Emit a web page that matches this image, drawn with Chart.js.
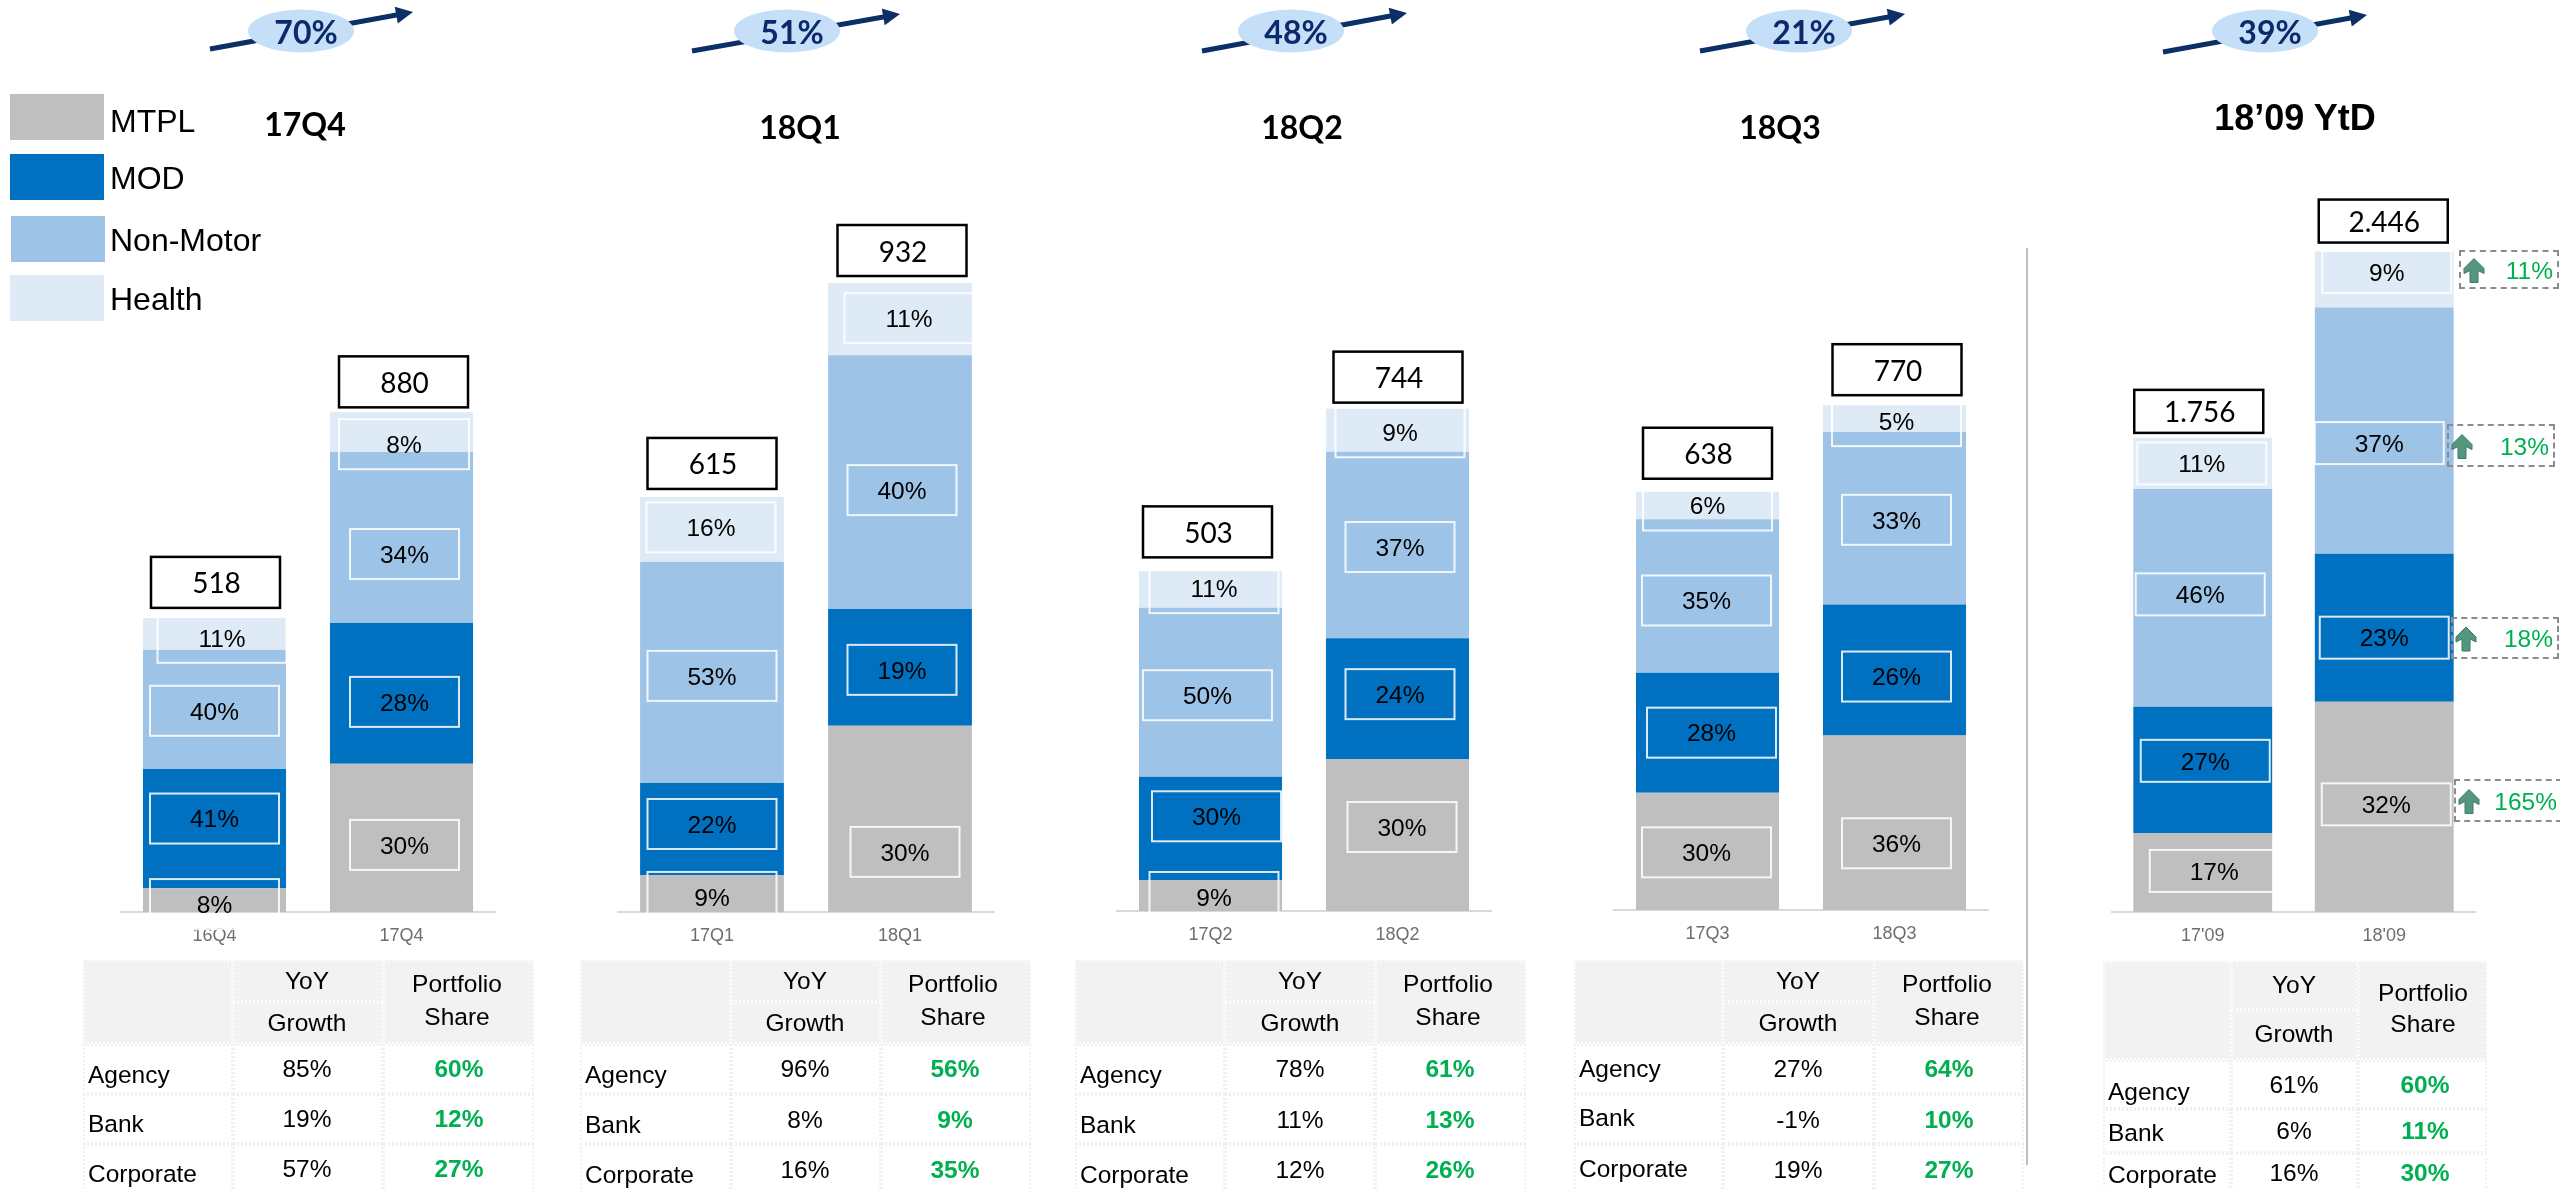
<!DOCTYPE html>
<html>
<head>
<meta charset="utf-8">
<title>Premium by line of business</title>
<script src="https://cdn.jsdelivr.net/npm/chart.js@4"></script>
<style>
html, body { margin: 0; padding: 0; background: #fff; }
#page { position: relative; width: 2560px; height: 1190px; overflow: hidden; }
#page canvas { position: absolute; left: 0; top: 0; }
.txt { position: absolute; white-space: nowrap; line-height: 1; color: #000; font-family: "Liberation Sans", sans-serif; }
.cell { position: absolute; box-sizing: border-box; }
</style>
</head>
<body>
<div id="page"></div>
<script>
// chart data, one entry per panel, each holding [previous year, current year]
const panelTitles = ['17Q4', '18Q1', '18Q2', '18Q3', '18’09 YtD'];
const periodLabels = [['16Q4', '17Q4'], ['17Q1', '18Q1'], ['17Q2', '18Q2'], ['17Q3', '18Q3'], ["17'09", "18'09"]];
const mtplValues = [[42, 261], [55, 276], [46, 225], [179, 266], [293, 779]];
const modValues = [[210, 248], [136, 173], [153, 179], [183, 200], [467, 548]];
const nonMotorValues = [[210, 301], [328, 376], [250, 276], [234, 263], [807, 912]];
const healthValues = [[56, 70], [96, 107], [54, 64], [42, 41], [189, 207]];
const totalLabels = [['518', '880'], ['615', '932'], ['503', '744'], ['638', '770'], ['1.756', '2.446']];

const mtplShares = [[8, 30], [9, 30], [9, 30], [30, 36], [17, 32]];
const modShares = [[41, 28], [22, 19], [30, 24], [28, 26], [27, 23]];
const nonMotorShares = [[40, 34], [53, 40], [50, 37], [35, 33], [46, 37]];
const healthShares = [[11, 8], [16, 11], [11, 9], [6, 5], [11, 9]];

const growthBubbles = ['70%', '51%', '48%', '21%', '39%'];
const ytdGrowth = ['165%', '18%', '13%', '11%'];

const channelNames = ['Agency', 'Bank', 'Corporate'];
const yoyGrowth = [['85%', '19%', '57%'], ['96%', '8%', '16%'], ['78%', '11%', '12%'], ['27%', '-1%', '19%'], ['61%', '6%', '16%']];
const portfolioShare = [['60%', '12%', '27%'], ['56%', '9%', '35%'], ['61%', '13%', '26%'], ['64%', '10%', '27%'], ['60%', '11%', '30%']];

const seriesNames = ['MTPL', 'MOD', 'Non-Motor', 'Health'];
const seriesColors = ['#bfbfbf', '#0070c0', '#9dc3e6', '#deeaf6'];

// layout, kept apart from the data
const plotTop = 200;
const plotLayout = [
    { left: 121, right: 495, base: 912, yMax: 1254, boxH: 50 },
    { left: 618, right: 994, base: 912, yMax: 1055, boxH: 50 },
    { left: 1117, right: 1491, base: 911, yMax: 1053, boxH: 50 },
    { left: 1614, right: 1988, base: 910, yMax: 1083, boxH: 50 },
    { left: 2112, right: 2475, base: 912, yMax: 2637, boxH: 42 }
];
// [dx, dy, width] of each share box from the middle of its segment: mtpl, mod, non-motor, health
const boxNudges = [
    [[[0, 4, 129], [0, -10, 129], [0, 1.5, 129], [7.5, 4, 129]], [[3, 7, 109], [3, 8.5, 109], [3, 16.5, 109], [2.5, 12, 130]]],
    [[[0, 3.5, 129], [0, -5, 129], [0, 3.5, 129], [-1, -2, 129]], [[5, 33, 109], [2, 2.5, 109], [2, 8, 109], [9, -1, 129]]],
    [[[3.5, 1.5, 129], [6, -12, 129], [-3, 3, 129], [3.5, -1.5, 129]], [[4.5, -8, 109], [2.5, -4.5, 109], [2.5, 2, 109], [2.5, 2, 129]]],
    [[[-1, 1, 129], [4, 0, 129], [-1, 4.5, 129], [0, 0, 129]], [[2, 20.5, 109], [2, 6.5, 109], [2, 1.5, 109], [2, 2.5, 129]]],
    [[[11.5, -1.5, 129], [2.5, -9, 129], [-2.5, -3.5, 129], [-1, 0, 129]], [[2, -2.5, 129], [0, 10, 129], [-5, 12.5, 129], [2.5, -7.5, 129]]]
];
// [dx, gap above the bar] of the total boxes
const totalNudges = [[[1, 10], [2, 5]], [[0, 8], [2, 7]], [[-3, 14], [0.5, 6]], [[0, 13], [2.5, 10]], [[-4, 5], [-1, 9]]];

const titleSpots = [[305, 124, 32], [800, 127, 32], [1302, 127, 32], [1780, 127, 32], [2295, 118, 36]];
const bubbleSpots = [[301, 31], [787, 31], [1291, 31], [1799, 31], [2265, 31]];
const arrowSpots = [[210, 49, 413, 12], [692, 51, 900, 14], [1202, 51, 1407, 13], [1700, 51, 1905, 14], [2163, 52, 2367, 15]];

const tableLayout = [
    { xs: [83, 233, 383, 534], ys: [960, 1044, 1094, 1144, 1200], mid: 1002, head: [981, 1023, 984, 1017], label: [1075, 1124, 1174], value: [1069, 1119, 1169], lx: 88, c1: 307, c2: 459 },
    { xs: [580, 731, 881, 1031], ys: [960, 1044, 1094, 1144, 1200], mid: 1002, head: [981, 1023, 984, 1017], label: [1075, 1125, 1175], value: [1069, 1120, 1170], lx: 585, c1: 805, c2: 955 },
    { xs: [1075, 1225, 1375, 1526], ys: [960, 1044, 1094, 1144, 1200], mid: 1002, head: [981, 1023, 984, 1017], label: [1075, 1125, 1175], value: [1069, 1120, 1170], lx: 1080, c1: 1300, c2: 1450 },
    { xs: [1574, 1723, 1874, 2024], ys: [960, 1044, 1094, 1144, 1200], mid: 1002, head: [981, 1023, 984, 1017], label: [1069, 1118, 1169], value: [1069, 1120, 1170], lx: 1579, c1: 1798, c2: 1949 },
    { xs: [2103, 2231, 2358, 2487], ys: [961, 1060, 1109, 1153, 1200], mid: 1010, head: [985, 1034, 993, 1024], label: [1092, 1133, 1175], value: [1085, 1131, 1173], lx: 2108, c1: 2294, c2: 2425 }
];
// dashed callouts next to the 18'09 bar: box x0, x1, y0, y1, then text right edge
const calloutSpots = [
    [2454, 2562, 779, 822, 2557],
    [2451, 2559, 617, 659, 2553],
    [2447, 2555, 424, 467, 2549],
    [2459, 2559, 250, 289, 2553]
];

const page = document.getElementById('page');

function addText(text, x, y, font, color, align) {
    let el = document.createElement('div');
    el.className = 'txt';
    el.textContent = text;
    el.style.left = x + 'px';
    el.style.top = y + 'px';
    if (font) el.style.font = font;
    el.style.lineHeight = '1';
    if (color) el.style.color = color;
    let shift = align === 'left' ? '0' : align === 'right' ? '-100%' : '-50%';
    el.style.transform = `translate(${shift}, -50%)`;
    page.appendChild(el);
}

function addCell(x0, y0, x1, y1, css) {
    let el = document.createElement('div');
    el.className = 'cell';
    el.style.cssText = `left:${x0}px;top:${y0}px;width:${x1 - x0}px;height:${y1 - y0}px;${css}`;
    page.appendChild(el);
}

// share boxes and totals follow the bars, so they are drawn from the bar elements
const boxLabels = {
    id: 'boxLabels',
    afterDraw(chart, args, opts) {
        const ctx = chart.ctx;
        const p = opts.panel;
        const sets = [mtplShares, modShares, nonMotorShares, healthShares];
        ctx.save();
        ctx.textAlign = 'center';
        ctx.textBaseline = 'middle';
        for (let s = 0; s < 4; s++) {
            chart.getDatasetMeta(s).data.forEach((bar, i) => {
                let nudge = boxNudges[p][i][s];
                let cx = bar.x + nudge[0];
                let cy = (bar.y + bar.base) / 2 + nudge[1];
                let w = nudge[2], h = plotLayout[p].boxH;
                ctx.strokeStyle = 'rgba(255,255,255,0.85)';
                ctx.lineWidth = 2;
                ctx.strokeRect(cx - w / 2, cy - h / 2, w, h);
                ctx.fillStyle = '#000';
                ctx.font = '24.5px "Liberation Sans"';
                ctx.fillText(sets[s][p][i] + '%', cx, cy + 2);
            });
        }
        chart.getDatasetMeta(3).data.forEach((bar, i) => {
            let nudge = totalNudges[p][i];
            let h = plotLayout[p].boxH + 1;
            let cx = bar.x + nudge[0];
            let y0 = bar.y - nudge[1] - h;
            ctx.fillStyle = '#fff';
            ctx.fillRect(cx - 64.5, y0, 129, h);
            ctx.strokeStyle = '#000';
            ctx.lineWidth = 2.5;
            ctx.strokeRect(cx - 64.5, y0, 129, h);
            ctx.fillStyle = '#000';
            ctx.font = '28px Lato';
            ctx.fillText(totalLabels[p][i], cx + 1, y0 + h / 2 + 2);
        });
        ctx.restore();
    }
};

function makePanel(p) {
    const lay = plotLayout[p];
    const axisHeight = 40;
    let canvas = document.createElement('canvas');
    canvas.width = 2560;
    canvas.height = 1190;
    canvas.style.width = '2560px';
    canvas.style.height = '1190px';
    page.appendChild(canvas);
    const values = [mtplValues, modValues, nonMotorValues, healthValues];
    new Chart(canvas, {
        type: 'bar',
        data: {
            labels: periodLabels[p],
            datasets: seriesNames.map((name, s) => ({
                label: name,
                data: values[s][p],
                backgroundColor: seriesColors[s],
                borderWidth: 0,
                barPercentage: 0.765,
                categoryPercentage: 1
            }))
        },
        options: {
            responsive: false,
            animation: false,
            devicePixelRatio: 1,
            layout: {
                padding: { left: lay.left, right: 2560 - lay.right, top: plotTop, bottom: 1190 - lay.base - axisHeight }
            },
            plugins: {
                legend: { display: false },
                title: { display: false },
                tooltip: { enabled: false },
                boxLabels: { panel: p }
            },
            scales: {
                x: {
                    stacked: true,
                    grid: { display: false },
                    border: { color: '#d9d9d9', width: 2 },
                    ticks: { color: '#6e6e6e', font: { family: 'Liberation Sans', size: 18 }, padding: 5, maxRotation: 0 },
                    afterFit: scale => { scale.height = axisHeight; }
                },
                y: { stacked: true, display: false, min: 0, max: lay.yMax }
            }
        },
        plugins: [boxLabels]
    });
}

for (let p = 0; p < 5; p++) {
    makePanel(p);
}

// legend
const legendSwatches = [[10, 94, 104, 140], [10, 154, 104, 200], [11, 216, 105, 262], [10, 275, 104, 321]];
const legendTextY = [121, 178, 240, 299];
seriesNames.forEach((name, s) => {
    let sw = legendSwatches[s];
    addCell(sw[0], sw[1], sw[2], sw[3], `background:${seriesColors[s]};`);
    addText(name, 110, legendTextY[s], '32px "Liberation Sans"', '#000', 'left');
});

// titles
panelTitles.forEach((title, p) => {
    let spot = titleSpots[p];
    let font = p === 4 ? `bold ${spot[2]}px "Liberation Sans"` : `bold ${spot[2]}px Lato`;
    addText(title, spot[0], spot[1], font, '#000');
});

// growth arrows with their bubble
let svg = `<svg xmlns="http://www.w3.org/2000/svg" width="2560" height="1190" style="position:absolute;left:0;top:0">`;
arrowSpots.forEach((a, p) => {
    let angle = Math.atan2(a[3] - a[1], a[2] - a[0]) * 180 / Math.PI;
    let len = Math.hypot(a[2] - a[0], a[3] - a[1]);
    svg += `<g transform="translate(${a[0]} ${a[1]}) rotate(${angle})" fill="#0b2f66">`;
    svg += `<rect x="0" y="-2.5" width="${len - 14}" height="5"/>`;
    svg += `<polygon points="${len},0 ${len - 17},-8.5 ${len - 17},8.5"/></g>`;
    svg += `<ellipse cx="${bubbleSpots[p][0]}" cy="${bubbleSpots[p][1]}" rx="53" ry="21.5" fill="#c5dff8"/>`;
});
// little up arrows inside the callouts
calloutSpots.forEach(c => {
    let x = c[0] + 5, y = (c[2] + c[3]) / 2 - 11;
    svg += `<polygon transform="translate(${x} ${y})" points="10,0 20,10 20,15 14,12 14,24 6,24 6,12 0,15 0,10" fill="#55967e" stroke="#3b7a64" stroke-width="1"/>`;
});
svg += `</svg>`;
page.insertAdjacentHTML('beforeend', svg);

growthBubbles.forEach((text, p) => {
    addText(text, bubbleSpots[p][0] + 5, 32, 'bold 32px Lato', '#0b2a6b');
});

// dashed callout boxes
ytdGrowth.forEach((text, i) => {
    let c = calloutSpots[i];
    addCell(c[0], c[2], c[1], c[3], 'border:2px dashed #8c8c8c;');
    addText(text, c[4], (c[2] + c[3]) / 2 + 1, '24.5px "Liberation Sans"', '#00b050', 'right');
});

// line between quarters and year to date
addCell(2026, 248, 2028, 1165, 'background:#bfbfbf;');

// channel tables under each panel
tableLayout.forEach((t, p) => {
    const headCss = 'background:#f2f2f2;border:2px dotted #fbfbfb;';
    const rowCss = 'background:#fff;border:2px dotted #f0f0f0;';
    addCell(t.xs[0], t.ys[0], t.xs[1], t.ys[1], headCss);
    addCell(t.xs[1], t.ys[0], t.xs[2], t.mid, headCss);
    addCell(t.xs[1], t.mid, t.xs[2], t.ys[1], headCss);
    addCell(t.xs[2], t.ys[0], t.xs[3], t.ys[1], headCss);
    for (let r = 0; r < 3; r++) {
        for (let c = 0; c < 3; c++) {
            addCell(t.xs[c], t.ys[r + 1], t.xs[c + 1], t.ys[r + 2], rowCss);
        }
    }
    const f = '24.5px "Liberation Sans"';
    addText('YoY', t.c1, t.head[0], f, '#000');
    addText('Growth', t.c1, t.head[1], f, '#000');
    addText('Portfolio', t.c2 - 2, t.head[2], f, '#000');
    addText('Share', t.c2 - 2, t.head[3], f, '#000');
    channelNames.forEach((name, r) => {
        addText(name, t.lx, t.label[r], f, '#000', 'left');
        addText(yoyGrowth[p][r], t.c1, t.value[r], f, '#000');
        addText(portfolioShare[p][r], t.c2, t.value[r], 'bold 24.5px "Liberation Sans"', '#00b050');
    });
});
</script>
</body>
</html>
